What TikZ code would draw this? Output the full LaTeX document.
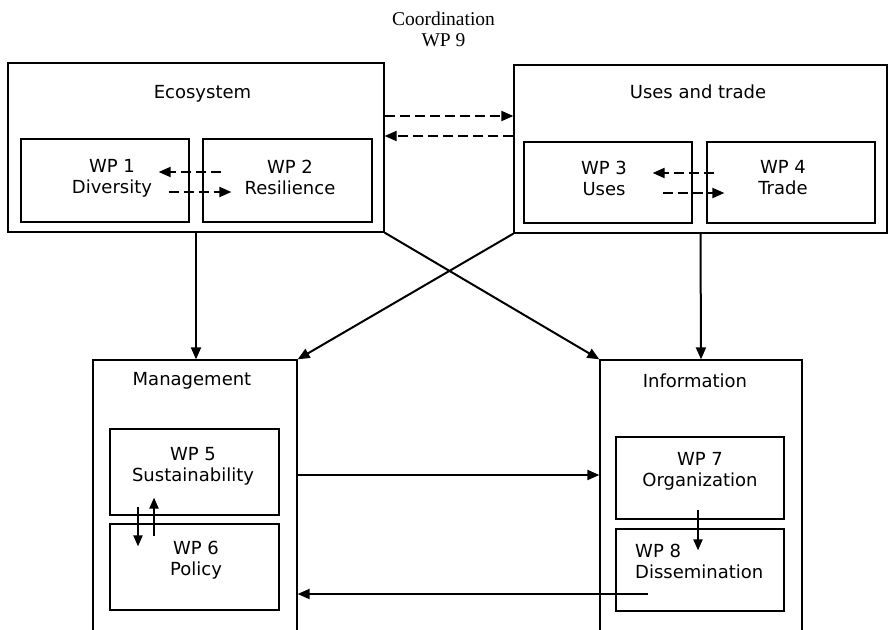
\documentclass[tikz,border=0pt]{standalone}
\usepackage{fontspec}
\setmainfont{Liberation Serif}
\newfontfamily\wpfont{DejaVu Sans}
\usetikzlibrary{arrows.meta}

\tikzset{
  outerbox/.style={draw, line width=1.3pt, inner sep=0pt},
  wpbox/.style={draw, line width=1.2pt, inner sep=0pt, minimum width=168pt},
  boxtext/.style={font=\wpfont\fontsize{18}{21}\selectfont, align=center, inner sep=0pt},
  flow/.style={-{Triangle[length=12pt,width=10pt]}, line width=2pt},
  smallflow/.style={-{Triangle[length=11pt,width=9pt]}, line width=2pt},
  link/.style={flow, dash pattern=on 10pt off 5pt}
}

\begin{document}
\begin{tikzpicture}[x=1pt, y=-1pt]

  \useasboundingbox (0,0) rectangle (888,629);
  \fill[white] (0,0) rectangle (888,629);
  \clip (0,0) rectangle (888,629);

  % --- Coordination ---
  \node[align=center, inner sep=0pt, font=\fontsize{19.5}{21}\selectfont] (coord) at (443.5,29) {Coordination\\WP 9};

  % --- Ecosystem ---
  \node[outerbox, minimum width=376pt, minimum height=169pt] (eco) at (196,147.5) {};
  \node[boxtext] (ecoT) at (202.5,94) {Ecosystem};
  \node[wpbox, minimum height=83pt] (wp1) at (105,180.5) {};
  \node[boxtext] (wp1T) at (112,178) {WP 1\\Diversity};
  \node[wpbox, minimum width=169pt, minimum height=83pt] (wp2) at (287.5,180.5) {};
  \node[boxtext] (wp2T) at (290,177) {WP 2\\Resilience};

  % --- Uses and trade ---
  \node[outerbox, minimum width=373pt, minimum height=168pt] (uses) at (700.5,149) {};
  \node[boxtext] (usesT) at (698,92) {Uses and trade};
  \node[wpbox, minimum height=81pt] (wp3) at (608,182.5) {};
  \node[boxtext] (wp3T) at (604,178) {WP 3\\Uses};
  \node[wpbox, minimum height=81pt] (wp4) at (791,182.5) {};
  \node[boxtext] (wp4T) at (783,178) {WP 4\\Trade};

  % --- Management ---
  \node[outerbox, minimum width=204pt, minimum height=340pt] (mgmt) at (195,530) {};
  \node[boxtext] (mgmtT) at (192,381) {Management};
  \node[wpbox, minimum width=169pt, minimum height=86pt] (wp5) at (194.5,472) {};
  \node[boxtext] (wp5T) at (193,466) {WP 5\\Sustainability};
  \node[wpbox, minimum width=169pt, minimum height=86pt] (wp6) at (194.5,567) {};
  \node[boxtext] (wp6T) at (196,560) {WP 6\\Policy};

  % --- Information ---
  \node[outerbox, minimum width=202pt, minimum height=340pt] (info) at (701,530) {};
  \node[boxtext] (infoT) at (695,381) {Information};
  \node[wpbox, minimum height=82pt] (wp7) at (700,478) {};
  \node[boxtext] (wp7T) at (700,471) {WP 7\\Organization};
  \node[wpbox, minimum height=82pt] (wp8) at (700,570) {};
  \node[boxtext, align=left, anchor=west] (wp8T) at (635,561) {WP 8\\Dissemination};

  % --- Dashed links ---
  \draw[link] (eco.east |- 0,116) -- (uses.west |- 0,116);
  \draw[link] (uses.west |- 0,136) -- (eco.east |- 0,136);
  \draw[link] ([shift={(19,-8.5)}]wp2.west) -- ([shift={(-31,-8.5)}]wp1.east);
  \draw[link] ([shift={(-21,11.5)}]wp1.east) -- ([shift={(29,11.5)}]wp2.west);
  \draw[link] ([shift={(8,-9.5)}]wp4.west) -- ([shift={(-40,-9.5)}]wp3.east);
  \draw[link] ([shift={(-30,10.5)}]wp3.east) -- ([shift={(18,10.5)}]wp4.west);

  % --- Main flows ---
  \draw[flow] (eco.south) -- (eco.south |- mgmt.north);
  \draw[flow] (eco.south east) -- (info.north west);
  \draw[flow] (uses.south west) -- (mgmt.north east);
  \draw[flow] (uses.south) -- (info.north);
  \draw[flow] (mgmt.east |- 0,475) -- (info.west |- 0,475);
  \coordinate (back) at ([shift={(-52,24)}]wp8.center);
  \draw[flow] (back) -- (back -| mgmt.east);

  % --- Inner flows ---
  \draw[smallflow] ([shift={(-56.5,-9)}]wp5.south) -- ([shift={(-56.5,23)}]wp6.north);
  \draw[smallflow] ([shift={(-40.5,13)}]wp6.north) -- ([shift={(-40.5,-18)}]wp5.south);
  \draw[smallflow] ([shift={(-2,-10)}]wp7.south) -- ([shift={(-2,22)}]wp8.north);

\end{tikzpicture}
\end{document}
